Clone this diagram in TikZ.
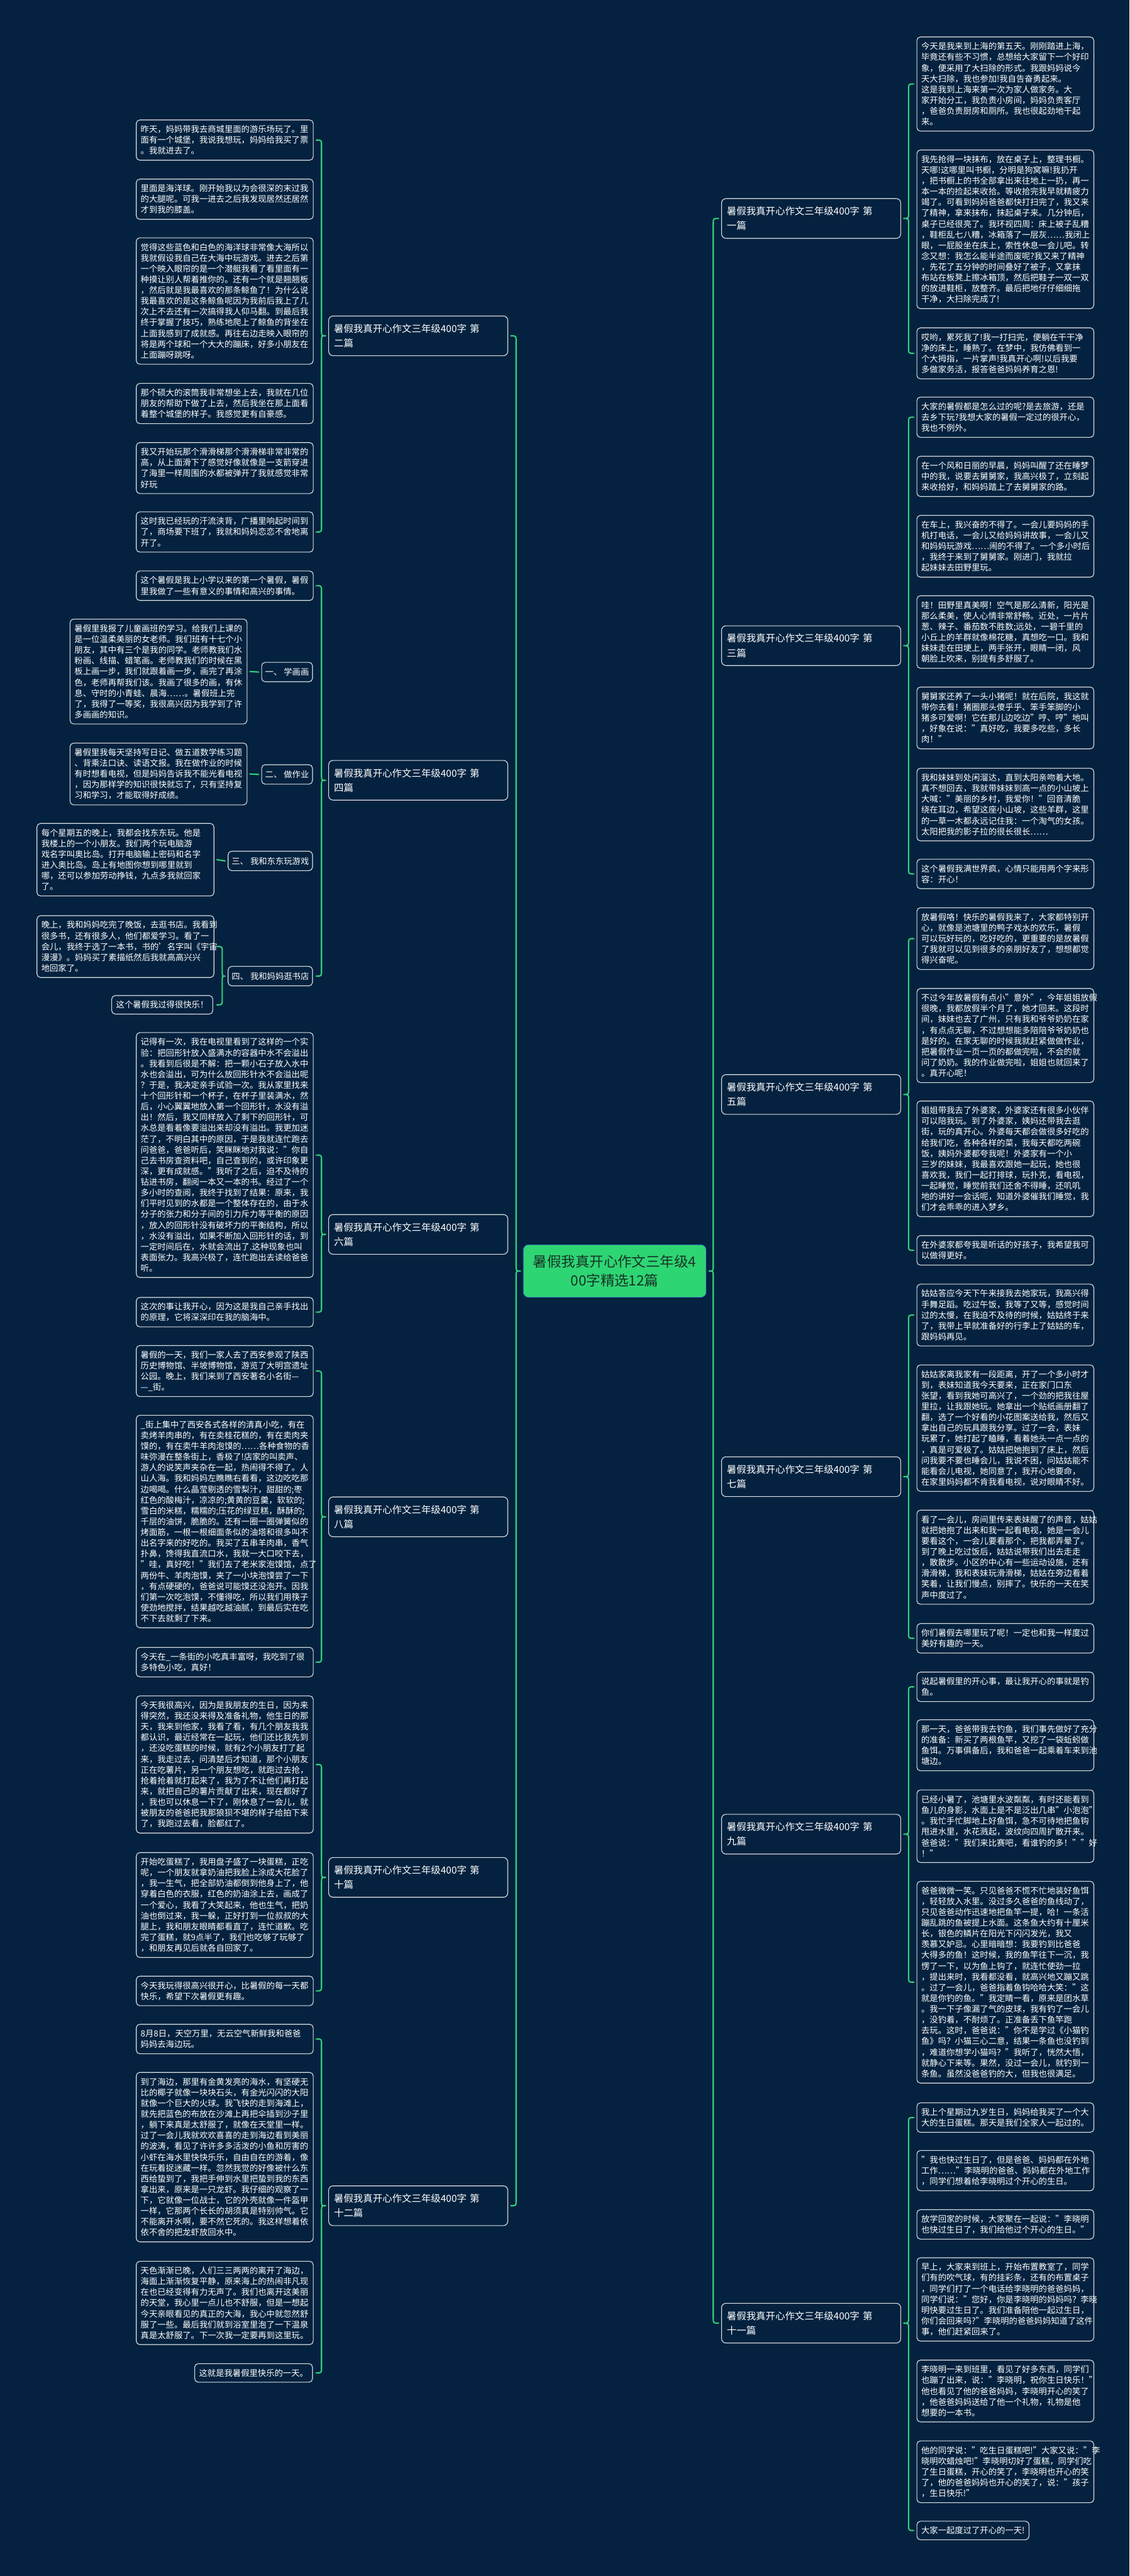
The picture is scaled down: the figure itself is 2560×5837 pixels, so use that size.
\documentclass[tikz,border=0pt]{standalone}
\usepackage{fontspec}
\setmainfont{Noto Sans CJK SC}
\usetikzlibrary{calc}
\definecolor{bg}{HTML}{04223F}
\definecolor{grn}{HTML}{33D17A}
\definecolor{cfill}{HTML}{2ED573}
\definecolor{cbord}{HTML}{3A78C8}
\definecolor{ctext}{HTML}{173326}
\definecolor{bord}{HTML}{DCE0E4}
\tikzset{
 tbox/.style={draw=bord, line width=0.8pt, rounded corners=4pt, fill=bg, text=white, anchor=north west, text width=190.5pt, align=left, inner xsep=5pt, inner ysep=2pt, font=\fontsize{9.5pt}{12.2pt}\selectfont},
 sbox/.style={draw=bord, line width=0.8pt, rounded corners=4pt, fill=bg, text=white, inner xsep=5pt, inner ysep=2pt, font=\fontsize{9.5pt}{12.2pt}\selectfont, minimum height=21pt},
 slab/.style={draw=bord, line width=0.8pt, rounded corners=4pt, fill=bg, text=white, inner xsep=4pt, inner ysep=2pt, font=\fontsize{9.5pt}{12.2pt}\selectfont, minimum height=22pt, anchor=north east},
 lab/.style={draw=bord, line width=0.8pt, rounded corners=5pt, fill=bg, text=white, align=left, text width=191pt, inner xsep=6pt, minimum height=45pt, font=\fontsize{11pt}{16.5pt}\selectfont},
 cnode/.style={fill=cfill, draw=cbord, line width=0.6pt, text=ctext, rounded corners=6pt, align=center, minimum width=207pt, minimum height=59.5pt, font=\fontsize{16pt}{21pt}\selectfont},
 brc/.style={draw=grn, line width=1.5pt, line cap=round, line join=round},
}
\newcommand\tb[5]{\node[tbox,minimum height={(#4*24.4+18)*0.5pt}] (#1) at (#2,#3) {#5};}
\newcommand\brL[3]{\draw[brc] let \p1=(#1.east),\p2=(#2.east),\p3=(#3.west) in (\x1+3pt,\y1) .. controls (\x1+9pt,\y1) .. (\x1+9pt,\y1-6pt) -- (\x1+9pt,\y3+6pt) .. controls (\x1+9pt,\y3) .. (\x3-3pt,\y3) .. controls (\x1+9pt,\y3) .. (\x1+9pt,\y3-6pt) -- (\x1+9pt,\y2+6pt) .. controls (\x1+9pt,\y2) .. (\x1+3pt,\y2);}
\newcommand\brR[3]{\draw[brc] let \p1=(#1.west),\p2=(#2.west),\p3=(#3.east) in (\x1-3pt,\y1) .. controls (\x1-9pt,\y1) .. (\x1-9pt,\y1-6pt) -- (\x1-9pt,\y3+6pt) .. controls (\x1-9pt,\y3) .. (\x3+3pt,\y3) .. controls (\x1-9pt,\y3) .. (\x1-9pt,\y3-6pt) -- (\x1-9pt,\y2+6pt) .. controls (\x1-9pt,\y2) .. (\x1-3pt,\y2);}
\begin{document}
\begin{tikzpicture}[x=0.5pt,y=-0.5pt]
\fill[bg] (0,0) rectangle (2560,5837);
\useasboundingbox (0,0) rectangle (2560,5837);
% center
\node[cnode] (C) at (1393,2880) {暑假我真开心作文三年级4\\00字精选12篇};
% labels
\node[lab,anchor=west] (L2) at (744,761) {暑假我真开心作文三年级400字~第\\二篇};
\node[lab,anchor=west] (L4) at (744,1768) {暑假我真开心作文三年级400字~第\\四篇};
\node[lab,anchor=west] (L6) at (744,2797) {暑假我真开心作文三年级400字~第\\六篇};
\node[lab,anchor=west] (L8) at (744,3437) {暑假我真开心作文三年级400字~第\\八篇};
\node[lab,anchor=west] (L10) at (744,4254) {暑假我真开心作文三年级400字~第\\十篇};
\node[lab,anchor=west] (L12) at (744,4998) {暑假我真开心作文三年级400字~第\\十二篇};
\node[lab,anchor=east] (R1) at (2042,495) {暑假我真开心作文三年级400字~第\\一篇};
\node[lab,anchor=east] (R3) at (2042,1463) {暑假我真开心作文三年级400字~第\\三篇};
\node[lab,anchor=east] (R5) at (2042,2480) {暑假我真开心作文三年级400字~第\\五篇};
\node[lab,anchor=east] (R7) at (2042,3346) {暑假我真开心作文三年级400字~第\\七篇};
\node[lab,anchor=east] (R9) at (2042,4156) {暑假我真开心作文三年级400字~第\\九篇};
\node[lab,anchor=east] (R11) at (2042,5264) {暑假我真开心作文三年级400字~第\\十一篇};
\brL{L2}{L12}{C}
\brR{R1}{R11}{C}
% ---- 第二篇
\tb{a1}{308}{271}{3}{昨天，妈妈带我去商城里面的游乐场玩了。里\\面有一个城堡，我说我想玩，妈妈给我买了票\\。我就进去了。}
\tb{a2}{308}{405}{3}{里面是海洋球。刚开始我以为会很深的末过我\\的大腿呢。可我一进去之后我发现居然还居然\\才到我的膝盖。}
\tb{a3}{308}{538}{11}{觉得这些蓝色和白色的海洋球非常像大海所以\\我就假设我自己在大海中玩游戏。进去之后第\\一个映入眼帘的是一个潜艇我看了看里面有一\\种摸让别人帮着推你的。还有一个就是翘翘板\\，然后就是我最喜欢的那条鲸鱼了！为什么说\\我最喜欢的是这条鲸鱼呢因为我前后我上了几\\次上不去还有一次搞得我人仰马翻。到最后我\\终于掌握了技巧，熟练地爬上了鲸鱼的背坐在\\上面我感到了成就感。再往右边走映入眼帘的\\将是两个球和一个大大的蹦床，好多小朋友在\\上面蹦呀跳呀。}
\tb{a4}{308}{868}{3}{那个硕大的滚筒我非常想坐上去，我就在几位\\朋友的帮助下做了上去，然后我坐在那上面看\\着整个城堡的样子。我感觉更有自豪感。}
\tb{a5}{308}{1002}{4}{我又开始玩那个滑滑梯那个滑滑梯非常非常的\\高，从上面滑下了感觉好像就像是一支箭穿进\\了海里一样周围的水都被弹开了我就感觉非常\\好玩}
\tb{a6}{308}{1159}{3}{这时我已经玩的汗流浃背，广播里响起时间到\\了，商场要下班了，我就和妈妈恋恋不舍地离\\开了。}
\brL{a1}{a6}{L2}
% ---- 第四篇
\tb{f0}{308}{1293}{2}{这个暑假是我上小学以来的第一个暑假，暑假\\里我做了一些有意义的事情和高兴的事情。}
\tb{f1}{158}{1402}{9}{暑假里我报了儿童画班的学习。给我们上课的\\是一位温柔美丽的女老师。我们班有十七个小\\朋友，其中有三个是我的同学。老师教我们水\\粉画、线描、蜡笔画。老师教我们的时候在黑\\板上画一步，我们就跟着画一步，画完了再涂\\色，老师再帮我们该。我画了很多的画，有休\\息、守时的小青蛙、晨海……。暑假班上完\\了，我得了一等奖，我很高兴因为我学到了许\\多画画的知识。}
\tb{f2}{158}{1683}{5}{暑假里我每天坚持写日记、做五道数学练习题\\、背乘法口诀、读语文报。我在做作业的时候\\有时想看电视，但是妈妈告诉我不能光看电视\\，因为那样学的知识很快就忘了，只有坚持复\\习和学习，才能取得好成绩。}
\tb{f3}{83}{1865}{6}{每个星期五的晚上，我都会找东东玩。他是\\我楼上的一个小朋友。我们两个玩电脑游\\戏名字叫奥比岛。打开电脑输上密码和名字\\进入奥比岛。岛上有地图你想到哪里就到\\哪，还可以参加劳动挣钱，九点多我就回家\\了。}
\tb{f4}{83}{2074}{5}{晚上，我和妈妈吃完了晚饭，去逛书店。我看到\\很多书，还有很多人，他们都爱学习。看了一\\会儿，我终于选了一本书，书的'名字叫《宇宙\\漫漫》。妈妈买了素描纸然后我就高高兴兴\\地回家了。}
\node[sbox,anchor=north east] (f5) at (483,2255) {这个暑假我过得很快乐！};
\node[slab] (s1) at (709,1500) {一、 学画画};
\node[slab] (s2) at (709,1732) {二、 做作业};
\node[slab] (s3) at (709,1928) {三、 我和东东玩游戏};
\node[slab] (s4) at (709,2189) {四、 我和妈妈逛书店};
\draw[brc] ([xshift=3pt]f1.east) -- ([xshift=-3pt]s1.west);
\draw[brc] ([xshift=3pt]f2.east) -- ([xshift=-3pt]s2.west);
\draw[brc] ([xshift=3pt]f3.east) -- ([xshift=-3pt]s3.west);
\brL{f4}{f5}{s4}
\brL{f0}{s4}{L4}
% ---- 第六篇
\tb{b1}{308}{2339}{22}{记得有一次，我在电视里看到了这样的一个实\\验：把回形针放入盛满水的容器中水不会溢出\\。我看到后很是不解：把一颗小石子放入水中\\水也会溢出，可为什么放回形针水不会溢出呢\\？于是，我决定亲手试验一次。我从家里找来\\十个回形针和一个杯子，在杯子里装满水，然\\后，小心翼翼地放入第一个回形针，水没有溢\\出！然后，我又同样放入了剩下的回形针，可\\水总是看着像要溢出来却没有溢出。我更加迷\\茫了，不明白其中的原因，于是我就连忙跑去\\问爸爸，爸爸听后，笑眯眯地对我说："你自\\己去书房查资料吧，自己查到的，或许印象更\\深，更有成就感。"我听了之后，迫不及待的\\钻进书房，翻阅一本又一本的书。经过了一个\\多小时的查阅，我终于找到了结果：原来，我\\们平时见到的水都是一个整体存在的，由于水\\分子的张力和分子间的引力斥力等平衡的原因\\，放入的回形针没有破坏力的平衡结构，所以\\，水没有溢出，如果不断加入回形针的话，到\\一定时间后在，水就会流出了.这种现象也叫\\表面张力。我高兴极了，连忙跑出去读给爸爸\\听。}
\tb{b2}{308}{2939}{2}{这次的事让我开心，因为这是我自己亲手找出\\的原理，它将深深印在我的脑海中。}
\brL{b1}{b2}{L6}
% ---- 第八篇
\tb{c1}{308}{3048}{4}{暑假的一天，我们一家人去了西安参观了陕西\\历史博物馆、半坡博物馆，游览了大明宫遗址\\公园。晚上，我们来到了西安著名小名街—\\—\_街。}
\tb{c2}{308}{3206}{19}{\_街上集中了西安各式各样的清真小吃，有在\\卖烤羊肉串的，有在卖桂花糕的，有在卖肉夹\\馍的，有在卖牛羊肉泡馍的……各种食物的香\\味弥漫在整条街上，香极了!店家的叫卖声、\\游人的说笑声夹杂在一起，热闹得不得了。人\\山人海。我和妈妈左瞧瞧右看看，这边吃吃那\\边喝喝。什么晶莹剔透的雪梨汁，甜甜的;枣\\红色的酸梅汁，凉凉的;黄黄的豆羹，软软的;\\雪白的米糕，糯糯的;压花的绿豆糕，酥酥的;\\千层的油饼，脆脆的。还有一圈一圈弹簧似的\\烤面筋，一根一根细面条似的油塔和很多叫不\\出名字来的好吃的。我买了五串羊肉串，香气\\扑鼻，馋得我直流口水，我就一大口咬下去，\\"哇，真好吃！"我们去了老米家泡馍馆，点了\\两份牛、羊肉泡馍，夹了一小块泡馍尝了一下\\，有点硬硬的，爸爸说可能馍还没泡开。因我\\们第一次吃泡馍，不懂得吃，所以我们用筷子\\使劲地搅拌，结果越吃越油腻，到最后实在吃\\不下去就剩了下来。}
\tb{c3}{308}{3732}{2}{今天在\_一条街的小吃真丰富呀，我吃到了很\\多特色小吃，真好！}
\brL{c1}{c3}{L8}
% ---- 第十篇
\tb{d1}{308}{3842}{12}{今天我很高兴，因为是我朋友的生日，因为来\\得突然，我还没来得及准备礼物，他生日的那\\天，我来到他家，我看了看，有几个朋友我我\\都认识，最近经常在一起玩，他们还比我先到\\，还没吃蛋糕的时候，就有2个小朋友打了起\\来，我走过去，问清楚后才知道，那个小朋友\\正在吃薯片，另一个朋友想吃，就跑过去抢，\\抢着抢着就打起来了，我为了不让他们再打起\\来，就把自己的薯片贡献了出来，现在都好了\\，我也可以休息一下了，刚休息了一会儿，就\\被朋友的爸爸把我那狼狈不堪的样子给拍下来\\了，我跑过去看，脸都红了。}
\tb{d2}{308}{4197}{9}{开始吃蛋糕了，我用盘子盛了一块蛋糕，正吃\\呢，一个朋友就拿奶油把我脸上涂成大花脸了\\，我一生气，把全部奶油都倒到他身上了，他\\穿着白色的衣服，红色的奶油涂上去，画成了\\一个爱心，我看了大笑起来，他也生气，把奶\\油也倒过来，我一躲，正好打到一位叔叔的大\\腿上，我和朋友眼睛都看直了，连忙道歉。吃\\完了蛋糕，就9点半了，我们也吃够了玩够了\\，和朋友再见后就各自回家了。}
\tb{d3}{308}{4477}{2}{今天我玩得很高兴很开心，比暑假的每一天都\\快乐，希望下次暑假更有趣。}
\brL{d1}{d3}{L10}
% ---- 第十二篇
\tb{e1}{308}{4586}{2}{8月8日，天空万里，无云空气新鲜我和爸爸\\妈妈去海边玩。}
\tb{e2}{308}{4695}{15}{到了海边，那里有金黄发亮的海水，有坚硬无\\比的椰子就像一块块石头，有金光闪闪的大阳\\就像一个巨大的火球。我飞快的走到海滩上，\\就先把蓝色的布放在沙滩上再把伞插到沙子里\\，躺下来真是太舒服了，就像在天堂里一样。\\过了一会儿我就欢欢喜喜的走到海边看到美丽\\的波涛，看见了许许多多活泼的小鱼和厉害的\\小虾在海水里快快乐乐，自由自在的游着，像\\在玩着捉迷藏一样。忽然我觉的好像被什么东\\西给蛰到了，我把手伸到水里把蛰到我的东西\\拿出来，原来是一只龙虾。我仔细的观察了一\\下，它就像一位战士，它的外壳就像一件盔甲\\一样，它那两个长长的胡须真是特别帅气。它\\不能离开水啊，要不然它死的。我这样想着依\\依不舍的把龙虾放回水中。}
\tb{e3}{308}{5123}{7}{天色渐渐已晚，人们三三两两的离开了海边，\\海面上渐渐恢复平静，原来海上的热闹非凡现\\在也已经变得有力无声了。我们也离开这美丽\\的天堂，我心里一点儿也不舒服，但是一想起\\今天亲眼看见的真正的大海，我心中就忽然舒\\服了一些。最后我们就到浴室里泡了一下温泉\\真是太舒服了。下一次我一定要再到这里玩。}
\node[sbox,anchor=north east] (e4) at (709,5355) {这就是我暑假里快乐的一天。};
\brL{e1}{e4}{L12}
% ---- 第一篇
\tb{r1a}{2077}{83}{8}{今天是我来到上海的第五天。刚刚踏进上海，\\毕竟还有些不习惯，总想给大家留下一个好印\\象，便采用了大扫除的形式。我跟妈妈说今\\天大扫除，我也参加!我自告奋勇起来。\\这是我到上海来第一次为家人做家务。大\\家开始分工，我负责小房间，妈妈负责客厅\\，爸爸负责厨房和厕所。我也很起劲地干起\\来。}
\tb{r1b}{2077}{339}{14}{我先抢得一块抹布，放在桌子上，整理书橱。\\天哪!这哪里叫书橱，分明是狗窝嘛!我扔开\\，把书橱上的书全部拿出来往地上一扔，再一\\本一本的捡起来收拾。等收拾完我早就精疲力\\竭了。可看到妈妈爸爸都快打扫完了，我又来\\了精神，拿来抹布，抹起桌子来。几分钟后，\\桌子已经很亮了。我环视四周：床上被子乱糟\\，鞋柜乱七八糟，冰箱落了一层灰……我闭上\\眼，一屁股坐在床上，索性休息一会儿吧。转\\念又想：我怎么能半途而废呢?我又来了精神\\，先花了五分钟的时间叠好了被子，又拿抹\\布站在板凳上擦冰箱顶，然后把鞋子一双一双\\的放进鞋柜，放整齐。最后把地仔仔细细拖\\干净，大扫除完成了!}
\tb{r1c}{2077}{742}{4}{哎哟，累死我了!我一打扫完，便躺在干干净\\净的床上，睡熟了。在梦中，我仿佛看到一\\个大拇指，一片掌声!我真开心啊!以后我要\\多做家务活，报答爸爸妈妈养育之恩!}
\brR{r1a}{r1c}{R1}
% ---- 第三篇
\tb{r3a}{2077}{899}{3}{大家的暑假都是怎么过的呢?是去旅游，还是\\去乡下玩?我想大家的暑假一定过的很开心，\\我也不例外。}
\tb{r3b}{2077}{1033}{3}{在一个风和日丽的早晨，妈妈叫醒了还在睡梦\\中的我，说要去舅舅家，我高兴极了，立刻起\\来收拾好，和妈妈踏上了去舅舅家的路。}
\tb{r3c}{2077}{1167}{5}{在车上，我兴奋的不得了。一会儿要妈妈的手\\机打电话，一会儿又给妈妈讲故事，一会儿又\\和妈妈玩游戏……闹的不得了。一个多小时后\\，我终于来到了舅舅家。刚进门，我就拉\\起妹妹去田野里玩。}
\tb{r3d}{2077}{1349}{6}{哇！田野里真美啊！空气是那么清新，阳光是\\那么柔美，使人心情非常舒畅。近处，一片片\\葱、辣子、番茄数不胜数;远处，一碧千里的\\小丘上的羊群就像棉花糖，真想吃一口。我和\\妹妹走在田埂上，两手张开，眼睛一闭，风\\朝脸上吹来，别提有多舒服了。}
\tb{r3e}{2077}{1556}{5}{舅舅家还养了一头小猪呢！就在后院，我这就\\带你去看！猪圈那头傻乎乎、笨手笨脚的小\\猪多可爱啊！它在那儿边吃边"哼、哼"地叫\\，好象在说："真好吃，我要多吃些，多长\\肉！"}
\tb{r3f}{2077}{1740}{6}{我和妹妹到处闲溜达，直到太阳亲吻着大地。\\真不想回去，我就带妹妹到高一点的小山坡上\\大喊："美丽的乡村，我爱你！"回音清脆\\绕在耳边，希望这座小山坡，这些羊群，这里\\的一草一木都永远记住我：一个淘气的女孩。\\太阳把我的影子拉的很长很长……}
\tb{r3g}{2077}{1946}{2}{这个暑假我满世界疯，心情只能用两个字来形\\容：开心！}
\brR{r3a}{r3g}{R3}
% ---- 第五篇
\tb{r5a}{2077}{2056}{5}{放暑假咯！快乐的暑假我来了，大家都特别开\\心，就像是池塘里的鸭子戏水的欢乐，暑假\\可以玩好玩的，吃好吃的，更重要的是放暑假\\了我就可以见到很多的亲朋好友了，想想都觉\\得兴奋呢。}
\tb{r5b}{2077}{2239}{8}{不过今年放暑假有点小"意外"，今年姐姐放假\\很晚，我都放假半个月了，她才回来。这段时\\间，妹妹也去了广州，只有我和爷爷奶奶在家\\，有点点无聊，不过想想能多陪陪爷爷奶奶也\\是好的。在家无聊的时候我就赶紧做做作业，\\把暑假作业一页一页的都做完啦，不会的就\\问了奶奶。我的作业做完啦，姐姐也就回来了\\。真开心呢！}
\tb{r5c}{2077}{2494}{10}{姐姐带我去了外婆家，外婆家还有很多小伙伴\\可以陪我玩。到了外婆家，姨妈还带我去逛\\街，玩的真开心。外婆每天都会做很多好吃的\\给我们吃，各种各样的菜，我每天都吃两碗\\饭，姨妈外婆都夸我呢！外婆家有一个小\\三岁的妹妹，我最喜欢跟她一起玩，她也很\\喜欢我，我们一起打排球，玩扑克，看电视，\\一起睡觉，睡觉前我们还舍不得睡，还叽叽\\地的讲好一会话呢，知道外婆催我们睡觉，我\\们才会乖乖的进入梦乡。}
\tb{r5d}{2077}{2799}{2}{在外婆家都夸我是听话的好孩子，我希望我可\\以做得更好。}
\brR{r5a}{r5d}{R5}
% ---- 第七篇
\tb{r7a}{2077}{2909}{5}{姑姑答应今天下午来接我去她家玩，我高兴得\\手舞足蹈。吃过午饭，我等了又等，感觉时间\\过的太慢，在我迫不及待的时候，姑姑终于来\\了，我带上早就准备好的行李上了姑姑的车，\\跟妈妈再见。}
\tb{r7b}{2077}{3092}{11}{姑姑家离我家有一段距离，开了一个多小时才\\到，表妹知道我今天要来，正在家门口东\\张望，看到我她可高兴了，一个劲的把我往屋\\里拉，让我跟她玩。她拿出一个贴纸画册翻了\\翻，选了一个好看的小花图案送给我，然后又\\拿出自己的玩具跟我分享。过了一会，表妹\\玩累了，她打起了瞌睡，看着她头一点一点的\\，真是可爱极了。姑姑把她抱到了床上，然后\\问我要不要也睡会儿，我说不困，问姑姑能不\\能看会儿电视，她同意了，我开心地要命，\\在家里妈妈都不肯我看电视，说对眼睛不好。}
\tb{r7c}{2077}{3421}{8}{看了一会儿，房间里传来表妹醒了的声音，姑姑\\就把她抱了出来和我一起看电视，她是一会儿\\要看这个，一会儿要看那个，把我都弄晕了。\\到了晚上吃过饭后，姑姑说带我们出去走走\\，散散步。小区的中心有一些运动设施，还有\\滑滑梯，我和表妹玩滑滑梯，姑姑在旁边看着\\笑着，让我们慢点，别摔了。快乐的一天在笑\\声中度过了。}
\tb{r7d}{2077}{3678}{2}{你们暑假去哪里玩了呢！一定也和我一样度过\\美好有趣的一天。}
\brR{r7a}{r7d}{R7}
% ---- 第九篇
\tb{r9a}{2077}{3788}{2}{说起暑假里的开心事，最让我开心的事就是钓\\鱼。}
\tb{r9b}{2077}{3896}{4}{那一天，爸爸带我去钓鱼，我们事先做好了充分\\的准备：新买了两根鱼竿，又挖了一袋蚯蚓做\\鱼饵。万事俱备后，我和爸爸一起乘着车来到池\\塘边。}
\tb{r9c}{2077}{4055}{6}{已经小暑了，池塘里水波粼粼，有时还能看到\\鱼儿的身影，水面上是不是泛出几串"小泡泡"\\。我忙手忙脚地上好鱼饵，急不可待地把鱼钩\\甩进水里，水花溅起，波纹向四周扩散开来。\\爸爸说："我们来比赛吧，看谁钓的多！""好\\！"}
\tb{r9d}{2077}{4262}{18}{爸爸微微一笑。只见爸爸不慌不忙地装好鱼饵\\，轻轻放入水里。没过多久爸爸的鱼线动了，\\只见爸爸动作迅速地把鱼竿一提，哈！一条活\\蹦乱跳的鱼被提上水面。这条鱼大约有十厘米\\长，银色的鳞片在阳光下闪闪发光，我又\\羡慕又妒忌。心里暗暗想：我要钓到比爸爸\\大得多的鱼！这时候，我的鱼竿往下一沉，我\\愣了一下，以为鱼上钩了，就连忙使劲一拉\\，提出来时，我看都没看，就高兴地又蹦又跳\\。过了一会儿，爸爸指着鱼钩哈哈大笑："这\\就是你钓的鱼。"我定睛一看，原来是团水草\\。我一下子像漏了气的皮球，我有钓了一会儿\\，没钓着，不耐烦了。正准备丢下鱼竿跑\\去玩。这时，爸爸说："你不是学过《小猫钓\\鱼》吗？小猫三心二意，结果一条鱼也没钓到\\，难道你想学小猫吗？"我听了，恍然大悟，\\就静心下来等。果然，没过一会儿，就钓到一\\条鱼。虽然没爸爸钓的大，但我也很满足。}
\brR{r9a}{r9d}{R9}
% ---- 第十一篇
\tb{r11a}{2077}{4764}{2}{我上个星期过九岁生日，妈妈给我买了一个大\\大的生日蛋糕。那天是我们全家人一起过的。}
\tb{r11b}{2077}{4872}{3}{"我也快过生日了，但是爸爸、妈妈都在外地\\工作……"李晓明的爸爸、妈妈都在外地工作\\，同学们想着给李晓明过个开心的生日。}
\tb{r11c}{2077}{5006}{2}{放学回家的时候，大家聚在一起说："李晓明\\也快过生日了，我们给他过个开心的生日。"}
\tb{r11d}{2077}{5115}{7}{早上，大家来到班上，开始布置教室了，同学\\们有的吹气球，有的挂彩条，还有的布置桌子\\，同学们打了一个电话给李晓明的爸爸妈妈，\\同学们说："您好，你是李晓明的妈妈吗？李晓\\明快要过生日了。我们准备陪他一起过生日，\\你们会回来吗?"李晓明的爸爸妈妈知道了这件\\事，他们赶紧回来了。}
\tb{r11e}{2077}{5347}{5}{李晓明一来到班里，看见了好多东西，同学们\\也蹦了出来，说："李晓明，祝你生日快乐！"\\他也看见了他的爸爸妈妈，李晓明开心的笑了\\，他爸爸妈妈送给了他一个礼物，礼物是他\\想要的一本书。}
\tb{r11f}{2077}{5530}{5}{他的同学说："吃生日蛋糕吧!"大家又说："李\\晓明吹蜡烛吧!"李晓明切好了蛋糕，同学们吃\\了生日蛋糕，开心的笑了，李晓明也开心的笑\\了，他的爸爸妈妈也开心的笑了，说："孩子\\，生日快乐!"}
\node[sbox,anchor=north west] (r11g) at (2077,5712) {大家一起度过了开心的一天!};
\brR{r11a}{r11g}{R11}
\end{tikzpicture}
\end{document}
